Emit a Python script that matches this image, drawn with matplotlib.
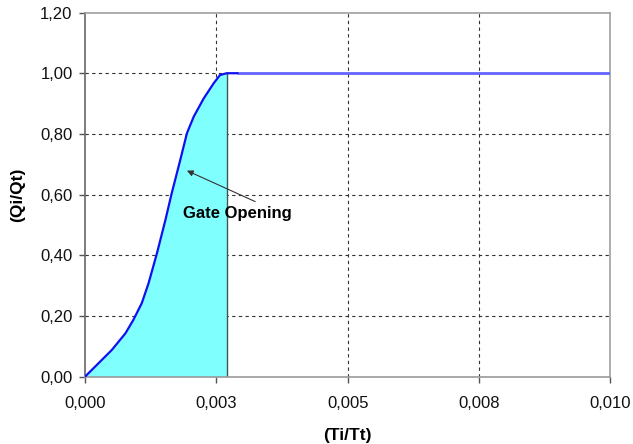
import matplotlib
matplotlib.use("Agg")
import matplotlib.pyplot as plt
import numpy as np

# Data
curve_x = [0.0, 0.00051, 0.00077, 0.00092, 0.00108, 0.00121, 0.00137, 0.00153,
           0.00165, 0.00180, 0.00194, 0.00207, 0.00226, 0.00245, 0.00257,
           0.00270, 0.00290]
curve_y = [0.0, 0.088, 0.143, 0.187, 0.242, 0.308, 0.407, 0.516,
           0.604, 0.705, 0.802, 0.857, 0.917, 0.967, 0.994,
           1.000, 1.000]
flat_x = [0.00290, 0.010]
flat_y = [1.0, 1.0]
gate_end = 0.00271

x_ticks = [0.0, 0.0025, 0.005, 0.0075, 0.010]
x_tick_labels = ["0,000", "0,003", "0,005", "0,008", "0,010"]
y_ticks = [0.0, 0.2, 0.4, 0.6, 0.8, 1.0, 1.2]
y_tick_labels = ["0,00", "0,20", "0,40", "0,60", "0,80", "1,00", "1,20"]

plt.rcParams['font.family'] = ['Liberation Sans', 'DejaVu Sans']

fig = plt.figure(figsize=(6.33, 4.44), dpi=100)
ax = fig.add_axes([0.1343, 0.1516, 0.9641 - 0.1343, 0.9718 - 0.1516])

# fill under the gate opening portion
fx = [x for x in curve_x if x < gate_end] + [gate_end]
fy = list(np.interp(fx, curve_x, curve_y))
ax.fill_between(fx, 0, fy, color="#80FFFF", zorder=1, linewidth=0)
ax.plot([gate_end, gate_end], [0, fy[-1]], color="#3a5a5a", linewidth=1.0, zorder=2)

ax.plot(flat_x, flat_y, color="#6464FF", linewidth=2.0, zorder=3, solid_capstyle='butt')
ax.plot(curve_x, curve_y, color="#1010F0", linewidth=1.6, zorder=4,
        solid_joinstyle='round')

ax.set_xlim(0, 0.010)
ax.set_ylim(0, 1.2)
ax.set_xticks(x_ticks)
ax.set_xticklabels(x_tick_labels, fontsize=12)
ax.set_yticks(y_ticks)
ax.set_yticklabels(y_tick_labels, fontsize=12)

for y in y_ticks[1:-1]:
    ax.axhline(y, color="#333333", linewidth=0.8, linestyle=(0, (3, 3)), zorder=0.5)
for x in x_ticks[1:-1]:
    ax.axvline(x, color="#333333", linewidth=0.8, linestyle=(0, (3, 3)), zorder=0.5)

ax.spines['left'].set_color("#666666")
ax.spines['bottom'].set_color("#999999")
ax.spines['top'].set_color("#a0a0a0")
ax.spines['right'].set_color("#a0a0a0")
for s in ax.spines.values():
    s.set_linewidth(1.2)
ax.tick_params(axis='both', direction='out', length=4, width=1, color="#555555",
               labelcolor="#111111")
ax.tick_params(axis='x', pad=10)
ax.tick_params(axis='y', pad=5)

ax.set_xlabel("(Ti/Tt)", fontsize=12.5, fontweight='bold', labelpad=12)
ax.set_ylabel("(Qi/Qt)", fontsize=12.5, fontweight='bold', labelpad=11)

ax.annotate("", xy=(0.00194, 0.679), xytext=(0.00324, 0.577),
            arrowprops=dict(arrowstyle='-|>', color="#333333", lw=0.8,
                            mutation_scale=9, shrinkA=0, shrinkB=0), zorder=5)
ax.text(0.00290, 0.537, "Gate Opening", fontsize=12, fontweight='bold',
        ha='center', va='center', zorder=6)

fig.savefig("out.png", dpi=100)
